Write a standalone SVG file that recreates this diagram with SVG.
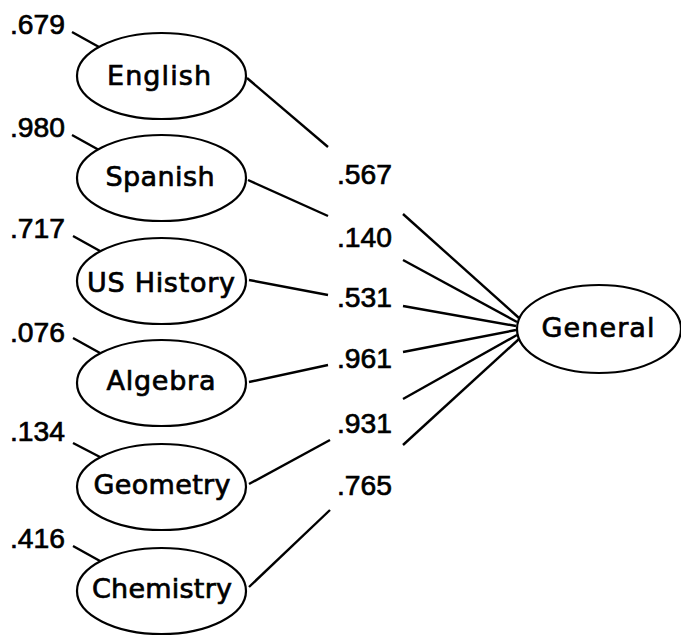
<svg xmlns="http://www.w3.org/2000/svg" width="681" height="638" viewBox="0 0 681 638">
<style>
.n ellipse{fill:#fff;stroke:#000;stroke-width:2.2}
.n text{font-family:"DejaVu Sans",sans-serif;font-size:27px;text-anchor:middle;fill:#000;stroke:#000;stroke-width:0.7}
.lbl{font-family:"Liberation Sans",Arial,sans-serif;font-size:28.5px;fill:#000;stroke:#000;stroke-width:0.7}
#edges line{stroke:#000;stroke-width:2.4}
</style>
<rect width="681" height="638" fill="#fff"/>
<g id="edges">
<line x1="72" y1="32" x2="99" y2="47"/>
<line x1="72" y1="135" x2="99" y2="150"/>
<line x1="73" y1="236" x2="100" y2="251"/>
<line x1="73" y1="338" x2="100" y2="353"/>
<line x1="73" y1="443" x2="100" y2="457"/>
<line x1="73" y1="546" x2="100" y2="561"/>
<line x1="247" y1="78" x2="328" y2="147"/>
<line x1="248" y1="180" x2="328" y2="216"/>
<line x1="249" y1="280" x2="328" y2="295"/>
<line x1="249" y1="382" x2="328" y2="365"/>
<line x1="249" y1="484" x2="330" y2="440"/>
<line x1="249" y1="587" x2="330" y2="510"/>
<line x1="403" y1="214" x2="519" y2="318"/>
<line x1="403" y1="260" x2="517" y2="322"/>
<line x1="403" y1="306" x2="516" y2="326"/>
<line x1="403" y1="352" x2="516" y2="330"/>
<line x1="403" y1="399" x2="517" y2="335"/>
<line x1="403" y1="445" x2="519" y2="339"/>
</g>
<g id="english" class="n"><ellipse cx="161.5" cy="76" rx="84.5" ry="43"/><text x="159" y="85" textLength="104" lengthAdjust="spacing">English</text></g>
<g id="spanish" class="n"><ellipse cx="161.5" cy="178" rx="84.5" ry="43"/><text x="160" y="186" textLength="109" lengthAdjust="spacing">Spanish</text></g>
<g id="ushistory" class="n"><ellipse cx="161.5" cy="281" rx="84.5" ry="43"/><text x="161" y="292" textLength="148" lengthAdjust="spacing">US History</text></g>
<g id="algebra" class="n"><ellipse cx="161.5" cy="383" rx="84.5" ry="43"/><text x="161" y="390" textLength="109" lengthAdjust="spacing">Algebra</text></g>
<g id="geometry" class="n"><ellipse cx="161.5" cy="487" rx="84.5" ry="43"/><text x="162" y="494" textLength="137" lengthAdjust="spacing">Geometry</text></g>
<g id="chemistry" class="n"><ellipse cx="161.5" cy="591" rx="84.5" ry="43"/><text x="162" y="598" textLength="140" lengthAdjust="spacing">Chemistry</text></g>
<g id="general" class="n"><ellipse cx="599" cy="329" rx="82" ry="44"/><text x="598" y="337" textLength="113" lengthAdjust="spacing">General</text></g>
<g id="labels">
<text class="lbl" x="10" y="34" textLength="55" lengthAdjust="spacingAndGlyphs">.679</text>
<text class="lbl" x="10" y="137" textLength="55" lengthAdjust="spacingAndGlyphs">.980</text>
<text class="lbl" x="10" y="238" textLength="55" lengthAdjust="spacingAndGlyphs">.717</text>
<text class="lbl" x="10" y="342" textLength="55" lengthAdjust="spacingAndGlyphs">.076</text>
<text class="lbl" x="10" y="441" textLength="55" lengthAdjust="spacingAndGlyphs">.134</text>
<text class="lbl" x="10" y="548" textLength="55" lengthAdjust="spacingAndGlyphs">.416</text>
<text class="lbl" x="337" y="184" textLength="55" lengthAdjust="spacingAndGlyphs">.567</text>
<text class="lbl" x="337" y="247" textLength="55" lengthAdjust="spacingAndGlyphs">.140</text>
<text class="lbl" x="337" y="307" textLength="55" lengthAdjust="spacingAndGlyphs">.531</text>
<text class="lbl" x="337" y="368" textLength="55" lengthAdjust="spacingAndGlyphs">.961</text>
<text class="lbl" x="337" y="433" textLength="55" lengthAdjust="spacingAndGlyphs">.931</text>
<text class="lbl" x="337" y="495" textLength="55" lengthAdjust="spacingAndGlyphs">.765</text>
</g>
</svg>
